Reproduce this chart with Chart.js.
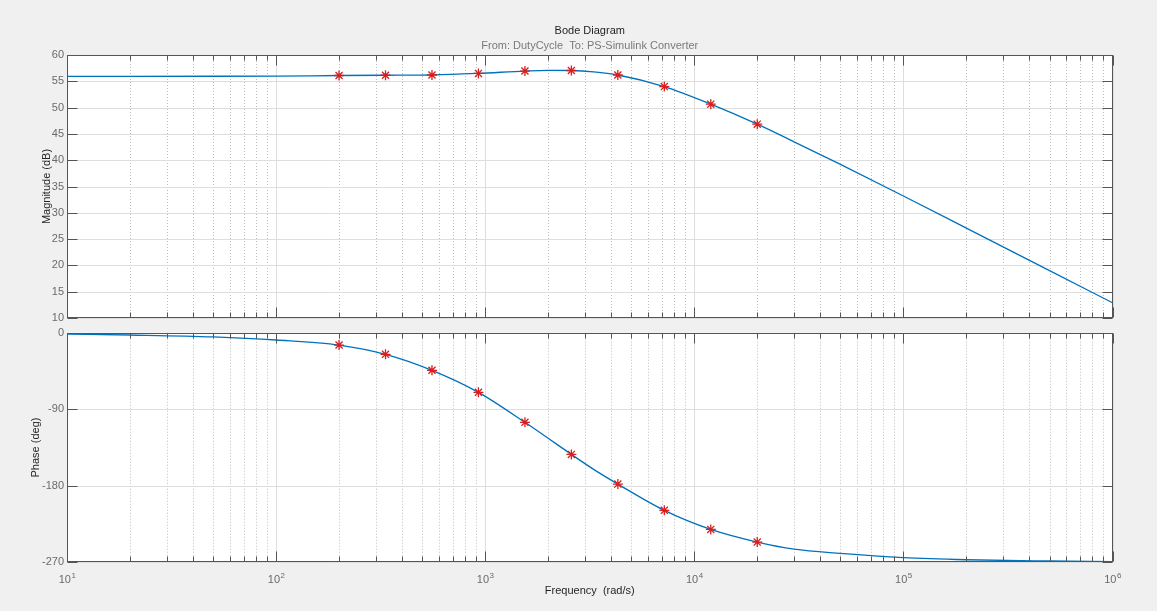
<!DOCTYPE html>
<html>
<head>
<meta charset="utf-8">
<title>Bode Diagram</title>
<script src="https://cdn.jsdelivr.net/npm/chart.js@4.4.1/dist/chart.umd.min.js"></script>
<style>
  html, body { margin: 0; padding: 0; background: #f0f0f0; }
  body { width: 1157px; height: 611px; position: relative; overflow: hidden; }
  canvas { position: absolute; left: 0; top: 0; }
</style>
</head>
<body>
<canvas id="mag" width="1157" height="611"></canvas>
<canvas id="phase" width="1157" height="611"></canvas>
<script>
const lineFreq = [10, 20, 50, 100, 200, 333.6, 556.5, 928.3, 1549, 2000, 2583, 3300, 4309, 7188, 11990, 20000, 30000, 50000, 100000, 200000, 500000, 1000000];
const magLine = [55.95, 55.95, 55.96, 55.98, 56.1, 56.15, 56.2, 56.5, 56.95, 57.08, 57.05, 56.8, 56.2, 54.0, 50.65, 46.85, 43.5, 39.2, 33.2, 27.1, 19.0, 12.9];
const phaseLine = [-1.5, -2.7, -5.0, -8.6, -14.5, -25.4, -44.2, -70.1, -105.4, -124.2, -143.1, -160.7, -178.0, -208.9, -231.3, -246.2, -254.5, -259.5, -264.5, -267.0, -268.5, -269.2];

// red asterisk markers
const markFreq = [200, 333.6, 556.5, 928.3, 1549, 2583, 4309, 7188, 11990, 20000];
const magMarks = [56.1, 56.15, 56.2, 56.5, 56.95, 57.05, 56.2, 54.0, 50.65, 46.85];
const phaseMarks = [-14.5, -25.4, -44.2, -70.1, -105.4, -143.1, -178.0, -208.9, -231.3, -246.2];

const magTicks = [10, 15, 20, 25, 30, 35, 40, 45, 50, 55, 60];
const phaseTicks = [-270, -180, -90, 0];
const decades = [10, 100, 1000, 10000, 100000, 1000000];

const titleText = 'Bode Diagram';
const subtitleText = 'From: DutyCycle  To: PS-Simulink Converter';

const FONT = "'Liberation Sans', Arial, Helvetica, sans-serif";
const tickColor = '#6a6a6a';
const labelColor = '#262626';

function pts(xs, ys) {
  return xs.map((f, i) => ({ x: f, y: ys[i] }));
}

function seg(ctx, x1, y1, x2, y2) {
  ctx.beginPath();
  ctx.moveTo(x1, y1);
  ctx.lineTo(x2, y2);
  ctx.stroke();
}

// matlab style axes: white box, dotted minor grid, inward ticks
function axesPlugin(yTicks) {
  return {
    id: 'matlabAxes',
    beforeDraw(chart) {
      const { ctx, chartArea: a } = chart;
      ctx.save();
      ctx.fillStyle = '#ffffff';
      ctx.fillRect(a.left, a.top, a.right - a.left, a.bottom - a.top);
      ctx.restore();
    },
    beforeDatasetsDraw(chart) {
      const { ctx, chartArea: a, scales: { x, y } } = chart;
      ctx.save();
      ctx.lineWidth = 1;
      ctx.strokeStyle = '#bdbdbd';
      ctx.setLineDash([1, 2]);
      decades.slice(0, -1).forEach(d => {
        for (let m = 2; m < 10; m++) {
          const xp = Math.round(x.getPixelForValue(d * m)) + 0.5;
          seg(ctx, xp, a.top, xp, a.bottom);
        }
      });
      ctx.setLineDash([]);
      ctx.strokeStyle = '#dedede';
      decades.forEach(d => {
        const xp = Math.round(x.getPixelForValue(d)) + 0.5;
        seg(ctx, xp, a.top, xp, a.bottom);
      });
      yTicks.forEach(v => {
        const yp = Math.round(y.getPixelForValue(v)) + 0.5;
        seg(ctx, a.left, yp, a.right, yp);
      });
      ctx.restore();
    },
    afterDatasetsDraw(chart) {
      const { ctx, chartArea: a, scales: { x, y } } = chart;
      const L = Math.round(a.left) + 0.5, R = Math.round(a.right) - 0.5;
      const T = Math.round(a.top) + 0.5, B = Math.round(a.bottom) - 0.5;
      ctx.save();
      ctx.lineWidth = 1;
      ctx.strokeStyle = '#555555';
      decades.forEach((d, k) => {
        let xp = Math.round(x.getPixelForValue(d)) + 0.5;
        seg(ctx, xp, T, xp, T + 10);
        seg(ctx, xp, B, xp, B - 10);
        if (k === decades.length - 1) return;
        for (let m = 2; m < 10; m++) {
          xp = Math.round(x.getPixelForValue(d * m)) + 0.5;
          seg(ctx, xp, T, xp, T + 5);
          seg(ctx, xp, B, xp, B - 5);
        }
      });
      yTicks.forEach(v => {
        const yp = Math.round(y.getPixelForValue(v)) + 0.5;
        seg(ctx, L, yp, L + 10, yp);
        seg(ctx, R, yp, R - 10, yp);
      });
      ctx.strokeRect(L, T, R - L, B - T);
      ctx.restore();
    }
  };
}

// title + subtitle centred over the plot box
const titles = {
  id: 'titles',
  afterDraw(chart) {
    const { ctx, chartArea: a } = chart;
    const cx = (a.left + a.right) / 2;
    ctx.save();
    ctx.textAlign = 'center';
    ctx.textBaseline = 'middle';
    ctx.font = '11px ' + FONT;
    ctx.fillStyle = '#1e1e1e';
    ctx.fillText(titleText, cx, 30.6);
    ctx.fillStyle = '#7a7a7a';
    ctx.fillText(subtitleText, cx, 46);
    ctx.restore();
  }
};

// x labels as 10 with a raised exponent
const decadeLabels = {
  id: 'decadeLabels',
  afterDraw(chart) {
    const { ctx, chartArea: a, scales: { x } } = chart;
    ctx.save();
    ctx.fillStyle = tickColor;
    ctx.textBaseline = 'middle';
    ctx.textAlign = 'left';
    decades.forEach(d => {
      const e = String(Math.round(Math.log10(d)));
      ctx.font = '11px ' + FONT;
      const w1 = ctx.measureText('10').width;
      ctx.font = '8px ' + FONT;
      const w2 = ctx.measureText(e).width;
      const x0 = x.getPixelForValue(d) - (w1 + w2) / 2;
      const yb = a.bottom + 18;
      ctx.font = '11px ' + FONT;
      ctx.fillText('10', x0, yb);
      ctx.font = '8px ' + FONT;
      ctx.fillText(e, x0 + w1 + 0.5, yb - 5);
    });
    ctx.restore();
  }
};

function datasets(lineVals, markVals) {
  return [
    {
      data: pts(markFreq, markVals),
      showLine: false,
      pointStyle: 'star',
      pointRadius: 5,
      pointBorderColor: '#d81e1e',
      pointBorderWidth: 1.3,
      pointBackgroundColor: 'transparent'
    },
    {
      data: pts(lineFreq, lineVals),
      borderColor: '#0072bd',
      borderWidth: 1.3,
      pointRadius: 0,
      cubicInterpolationMode: 'monotone',
      fill: false
    }
  ];
}

const xBase = {
  type: 'logarithmic',
  min: 10,
  max: 1000000,
  ticks: { display: false },
  grid: { display: false, drawTicks: false },
  border: { display: false }
};

new Chart(document.getElementById('mag'), {
  type: 'line',
  data: { datasets: datasets(magLine, magMarks) },
  options: {
    responsive: false,
    animation: false,
    devicePixelRatio: 1,
    layout: { padding: { left: 0, right: 44.5, top: 55, bottom: 293 } },
    plugins: {
      legend: { display: false },
      tooltip: { enabled: false }
    },
    scales: {
      x: Object.assign({}, xBase, { afterFit(s) { s.height = 0; } }),
      y: {
        min: 10, max: 60,
        afterBuildTicks(s) { s.ticks = magTicks.map(v => ({ value: v })); },
        ticks: { color: tickColor, font: { family: FONT, size: 11 }, padding: 3 },
        grid: { display: false, drawTicks: false },
        border: { display: false },
        title: {
          display: true, text: 'Magnitude (dB)', color: labelColor,
          font: { family: FONT, size: 11 }, padding: { top: 40.8, bottom: 0 }
        },
        afterFit(s) { s.width = 67; }
      }
    }
  },
  plugins: [axesPlugin(magTicks), titles]
});

new Chart(document.getElementById('phase'), {
  type: 'line',
  data: { datasets: datasets(phaseLine, phaseMarks) },
  options: {
    responsive: false,
    animation: false,
    devicePixelRatio: 1,
    layout: { padding: { left: 0, right: 44.5, top: 332.7, bottom: 0 } },
    plugins: {
      legend: { display: false },
      tooltip: { enabled: false }
    },
    scales: {
      x: Object.assign({}, xBase, {
        title: {
          display: true, text: 'Frequency  (rad/s)', color: labelColor,
          font: { family: FONT, size: 11 }, padding: { top: 0, bottom: 13.7 }
        },
        afterFit(s) { s.height = 48.7; }
      }),
      y: {
        min: -270, max: 0,
        afterBuildTicks(s) { s.ticks = phaseTicks.map(v => ({ value: v })); },
        ticks: { color: tickColor, font: { family: FONT, size: 11 }, padding: 3 },
        grid: { display: false, drawTicks: false },
        border: { display: false },
        title: {
          display: true, text: 'Phase (deg)', color: labelColor,
          font: { family: FONT, size: 11 }, padding: { top: 29.8, bottom: 0 }
        },
        afterFit(s) { s.width = 67; }
      }
    }
  },
  plugins: [axesPlugin(phaseTicks), decadeLabels]
});
</script>
</body>
</html>
